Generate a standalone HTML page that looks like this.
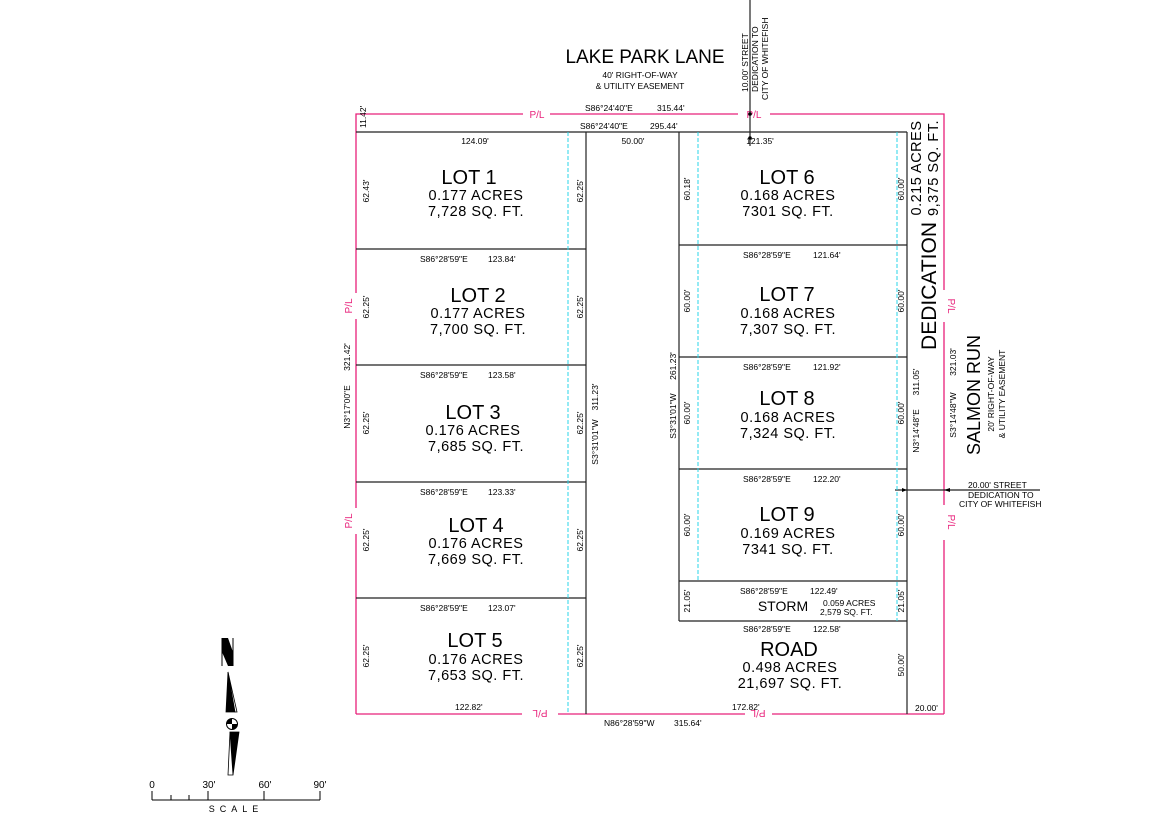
<!DOCTYPE html>
<html><head><meta charset="utf-8"><style>
html,body{margin:0;padding:0;background:#fff;}
svg{display:block;font-family:"Liberation Sans",sans-serif;}
.s{font-size:8.5px;fill:#000;}
.t{font-size:20px;fill:#000;}
.m{font-size:14.5px;fill:#000;letter-spacing:0.5px;}
.p{font-size:10px;fill:#e8207a;}
</style></head><body>
<svg width="1170" height="830" viewBox="0 0 1170 830" xmlns="http://www.w3.org/2000/svg">
<!-- pink property line -->
<g stroke="#e8207a" stroke-width="1.3" fill="none">
<polyline points="356,714 356,114 523,114"/>
<line x1="550" y1="114" x2="738" y2="114"/>
<polyline points="770,114 944,114 944,290"/>
<line x1="944" y1="322" x2="944" y2="505"/>
<line x1="944" y1="540" x2="944" y2="714"/>
<line x1="944" y1="714" x2="772" y2="714"/>
<line x1="745" y1="714" x2="558" y2="714"/>
<line x1="522" y1="714" x2="356" y2="714"/>
<line x1="356" y1="290" x2="356" y2="290"/>
</g>
<rect x="352" y="293" width="8" height="26" fill="#fff"/>
<rect x="352" y="508" width="8" height="26" fill="#fff"/>
<text class="p" x="537" y="118" text-anchor="middle">P/L</text>
<text class="p" x="754" y="118" text-anchor="middle">P/L</text>
<text class="p" transform="translate(352,306) rotate(-90)" text-anchor="middle">P/L</text>
<text class="p" transform="translate(352,521) rotate(-90)" text-anchor="middle">P/L</text>
<text class="p" transform="translate(948,306) rotate(90)" text-anchor="middle">P/L</text>
<text class="p" transform="translate(948,522) rotate(90)" text-anchor="middle">P/L</text>
<text class="p" transform="translate(540,710) rotate(180)" text-anchor="middle">P/L</text>
<text class="p" transform="translate(758,710) rotate(180)" text-anchor="middle">P/L</text>

<!-- black lines -->
<g stroke="#222" stroke-width="1.2" fill="none">
<line x1="356" y1="132" x2="907" y2="132"/>
<line x1="586" y1="132" x2="586" y2="714"/>
<line x1="356" y1="249" x2="586" y2="249"/>
<line x1="356" y1="365" x2="586" y2="365"/>
<line x1="356" y1="482" x2="586" y2="482"/>
<line x1="356" y1="598" x2="586" y2="598"/>
<line x1="679" y1="132" x2="679" y2="621"/>
<line x1="907" y1="132" x2="907" y2="714"/>
<line x1="679" y1="245" x2="907" y2="245"/>
<line x1="679" y1="357" x2="907" y2="357"/>
<line x1="679" y1="469" x2="907" y2="469"/>
<line x1="679" y1="581" x2="907" y2="581"/>
<line x1="679" y1="621" x2="907" y2="621"/>
<line x1="750" y1="0" x2="750" y2="146"/>
<line x1="895" y1="490" x2="1040" y2="490"/>
</g>
<g stroke="#2ad4e8" stroke-width="1" stroke-dasharray="4,2" fill="none">
<line x1="568" y1="132" x2="568" y2="714"/>
<line x1="698" y1="132" x2="698" y2="581"/>
<line x1="897" y1="132" x2="897" y2="621"/>
</g>
<circle cx="750" cy="114" r="1.8" fill="#000"/><circle cx="750" cy="138" r="1.8" fill="#000"/>
<polygon points="907,490 902,488 902,492" fill="#000"/>
<polygon points="944,490 950,488 950,492" fill="#000"/>

<!-- header -->
<text x="645" y="63" font-size="19" text-anchor="middle">LAKE PARK LANE</text>
<text class="s" x="640" y="78" text-anchor="middle" font-size="9">40' RIGHT-OF-WAY</text>
<text class="s" x="640" y="89" text-anchor="middle" font-size="9">&amp; UTILITY EASEMENT</text>
<text class="s" transform="translate(748,92) rotate(-90)">10.00' STREET</text>
<text class="s" transform="translate(758,92) rotate(-90)">DEDICATION TO</text>
<text class="s" transform="translate(768,100) rotate(-90)">CITY OF WHITEFISH</text>
<text class="s" x="585" y="111">S86°24'40"E</text><text class="s" x="657" y="111">315.44'</text>
<text class="s" x="580" y="129">S86°24'40"E</text><text class="s" x="650" y="129">295.44'</text>

<!-- left lots -->
<text class="s" x="475" y="144" text-anchor="middle">124.09'</text>
<text class="s" x="633" y="144" text-anchor="middle">50.00'</text>
<text class="s" x="760" y="144" text-anchor="middle">121.35'</text>
<text class="s" transform="translate(366,128) rotate(-90)" >11.42'</text>

<g text-anchor="middle">
<text class="t" x="469" y="184">LOT 1</text><text class="m" x="476" y="200">0.177 ACRES</text><text class="m" x="476" y="216">7,728 SQ. FT.</text>
<text class="t" x="478" y="302">LOT 2</text><text class="m" x="478" y="318">0.177 ACRES</text><text class="m" x="478" y="334">7,700 SQ. FT.</text>
<text class="t" x="473" y="419">LOT 3</text><text class="m" x="473" y="435">0.176 ACRES</text><text class="m" x="476" y="451">7,685 SQ. FT.</text>
<text class="t" x="476" y="532">LOT 4</text><text class="m" x="476" y="548">0.176 ACRES</text><text class="m" x="476" y="564">7,669 SQ. FT.</text>
<text class="t" x="475" y="647">LOT 5</text><text class="m" x="476" y="664">0.176 ACRES</text><text class="m" x="476" y="680">7,653 SQ. FT.</text>

<text class="t" x="787" y="184">LOT 6</text><text class="m" x="788" y="200">0.168 ACRES</text><text class="m" x="788" y="216">7301 SQ. FT.</text>
<text class="t" x="787" y="301">LOT 7</text><text class="m" x="788" y="318">0.168 ACRES</text><text class="m" x="788" y="334">7,307 SQ. FT.</text>
<text class="t" x="787" y="405">LOT 8</text><text class="m" x="788" y="422">0.168 ACRES</text><text class="m" x="788" y="438">7,324 SQ. FT.</text>
<text class="t" x="787" y="521">LOT 9</text><text class="m" x="788" y="538">0.169 ACRES</text><text class="m" x="788" y="554">7341 SQ. FT.</text>
<text x="783" y="611" font-size="14">STORM</text>
<text class="t" x="789" y="656">ROAD</text><text class="m" x="790" y="672">0.498 ACRES</text><text class="m" x="790" y="688">21,697 SQ. FT.</text>
</g>
<text class="s" x="823" y="606">0.059 ACRES</text>
<text class="s" x="820" y="615">2,579 SQ. FT.</text>

<!-- bearing labels -->
<g class="s">
<text x="420" y="262">S86°28'59"E</text><text x="488" y="262">123.84'</text>
<text x="420" y="378">S86°28'59"E</text><text x="488" y="378">123.58'</text>
<text x="420" y="495">S86°28'59"E</text><text x="488" y="495">123.33'</text>
<text x="420" y="611">S86°28'59"E</text><text x="488" y="611">123.07'</text>
<text x="743" y="258">S86°28'59"E</text><text x="813" y="258">121.64'</text>
<text x="743" y="370">S86°28'59"E</text><text x="813" y="370">121.92'</text>
<text x="743" y="482">S86°28'59"E</text><text x="813" y="482">122.20'</text>
<text x="740" y="594">S86°28'59"E</text><text x="810" y="594">122.49'</text>
<text x="743" y="632">S86°28'59"E</text><text x="813" y="632">122.58'</text>
<text x="455" y="710">122.82'</text>
<text x="732" y="710">172.82'</text>
<text x="915" y="711">20.00'</text>
<text x="604" y="726">N86°28'59"W</text><text x="674" y="726">315.64'</text>
<text x="968" y="488">20.00' STREET</text>
<text x="968" y="498">DEDICATION TO</text>
<text x="959" y="507">CITY OF WHITEFISH</text>
</g>
<g class="s" text-anchor="middle">
<text transform="translate(369,191) rotate(-90)">62.43'</text>
<text transform="translate(369,307) rotate(-90)">62.25'</text>
<text transform="translate(369,423) rotate(-90)">62.25'</text>
<text transform="translate(369,540) rotate(-90)">62.25'</text>
<text transform="translate(369,656) rotate(-90)">62.25'</text>
<text transform="translate(350,407) rotate(-90)">N3°17'00"E</text>
<text transform="translate(350,357) rotate(-90)">321.42'</text>
<text transform="translate(583,191) rotate(-90)">62.25'</text>
<text transform="translate(583,307) rotate(-90)">62.25'</text>
<text transform="translate(583,423) rotate(-90)">62.25'</text>
<text transform="translate(583,540) rotate(-90)">62.25'</text>
<text transform="translate(583,656) rotate(-90)">62.25'</text>
<text transform="translate(598,442) rotate(-90)">S3°31'01"W</text>
<text transform="translate(598,397) rotate(-90)">311.23'</text>
<text transform="translate(676,416) rotate(-90)">S3°31'01"W</text>
<text transform="translate(676,366) rotate(-90)">261.23'</text>
<text transform="translate(690,189) rotate(-90)">60.18'</text>
<text transform="translate(690,301) rotate(-90)">60.00'</text>
<text transform="translate(690,413) rotate(-90)">60.00'</text>
<text transform="translate(690,525) rotate(-90)">60.00'</text>
<text transform="translate(690,601) rotate(-90)">21.05'</text>
<text transform="translate(904,189) rotate(-90)">60.00'</text>
<text transform="translate(904,301) rotate(-90)">60.00'</text>
<text transform="translate(904,413) rotate(-90)">60.00'</text>
<text transform="translate(904,525) rotate(-90)">60.00'</text>
<text transform="translate(904,601) rotate(-90)">21.05'</text>
<text transform="translate(904,665) rotate(-90)">50.00'</text>
<text transform="translate(919,431) rotate(-90)">N3°14'48"E</text>
<text transform="translate(919,382) rotate(-90)">311.05'</text>
<text transform="translate(956,415) rotate(-90)">S3°14'48"W</text>
<text transform="translate(956,362) rotate(-90)">321.03'</text>
</g>
<text transform="translate(936,286) rotate(-90)" font-size="21" text-anchor="middle">DEDICATION</text>
<text transform="translate(921,168) rotate(-90)" class="m" text-anchor="middle">0.215 ACRES</text>
<text transform="translate(938,168) rotate(-90)" class="m" text-anchor="middle">9,375 SQ. FT.</text>
<text transform="translate(980,395) rotate(-90)" font-size="18" text-anchor="middle">SALMON RUN</text>
<text transform="translate(994,394) rotate(-90)" class="s" font-size="9" text-anchor="middle">20' RIGHT-OF-WAY</text>
<text transform="translate(1005,394) rotate(-90)" class="s" font-size="9" text-anchor="middle">&amp; UTILITY EASEMENT</text>

<!-- north arrow -->
<polygon points="222,638 228,638 233,652 233,666 228,666 222,652" fill="#000"/>
<line x1="222" y1="638" x2="222" y2="666" stroke="#000"/>
<line x1="233" y1="638" x2="233" y2="666" stroke="#000"/>
<polygon points="228,672 226,712 235,712" fill="#000" stroke="#000" stroke-width="0.8"/>
<polygon points="228,672 235,712 237,712" fill="#fff" stroke="#000" stroke-width="0.8"/>
<polygon points="233,775 230,732 239,732" fill="#000" stroke="#000" stroke-width="0.8"/>
<polygon points="233,775 230,732 228,775" fill="#fff" stroke="#000" stroke-width="0.8"/>
<circle cx="232" cy="724" r="5.5" fill="#fff" stroke="#000"/>
<path d="M232,724 L232,718.5 A5.5,5.5 0 0 0 226.5,724 Z M232,724 L232,729.5 A5.5,5.5 0 0 0 237.5,724 Z" fill="#000"/>

<!-- scale -->
<g stroke="#000" stroke-width="1">
<line x1="152" y1="800" x2="320" y2="800"/>
<line x1="152" y1="791" x2="152" y2="800"/>
<line x1="171" y1="795" x2="171" y2="800"/>
<line x1="189" y1="795" x2="189" y2="800"/>
<line x1="208" y1="791" x2="208" y2="800"/>
<line x1="264" y1="791" x2="264" y2="800"/>
<line x1="320" y1="791" x2="320" y2="800"/>
</g>
<g font-size="10" text-anchor="middle">
<text x="152" y="788">0</text><text x="209" y="788">30'</text><text x="265" y="788">60'</text><text x="320" y="788">90'</text>
</g>
<text x="236" y="812" font-size="9" text-anchor="middle" letter-spacing="5">SCALE</text>
</svg>
</body></html>
